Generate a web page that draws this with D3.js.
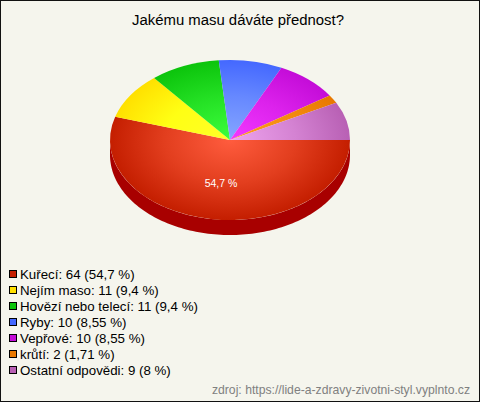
<!DOCTYPE html>
<html><head><meta charset="utf-8">
<script src="https://cdn.jsdelivr.net/npm/d3@7"></script>
<style>html,body{margin:0;padding:0;background:#f5f5ed}svg{display:block}text{font-family:"Liberation Sans",Arial,sans-serif}</style>
</head><body><svg id="c" width="480" height="402"></svg>
<script>
const title = "Jakému masu dáváte přednost?";
const source = "zdroj: https://lide-a-zdravy-zivotni-styl.vyplnto.cz";
const categories = ["Kuřecí","Nejím maso","Hovězí nebo telecí","Ryby","Vepřové","krůtí","Ostatní odpovědi"];
const values = [64,11,11,10,10,2,9];
const percentLabels = ["54,7 %","9,4 %","9,4 %","8,55 %","8,55 %","1,71 %","8 %"];
const lightColors = ["#ff5c3e","#ffff28","#3cff3c","#86a6ff","#f238ff","#ff9c20","#eea4ee"];
const midColors = ["#e23e1e","#ffff14","#24e024","#6688ff","#dc22ec","#f48c10","#d482d2"];
const darkColors = ["#c41e00","#ffe000","#0cc40c","#4468ff","#c40cd8","#e87800","#b860b4"];
const swatchColors = ["#c41e00","#ffe000","#0cc40c","#4468ff","#c40cd8","#e87800","#b860b4"];
const sideColor = "#a80000";

const W=480,H=402,cx=230,cy=140,rx=120,ry=80,depth=15;
const svg=d3.select("#c");
const defs=svg.append("defs");
svg.append("rect").attr("width",W).attr("height",H).attr("fill","#f5f5ed");
svg.append("rect").attr("x",.5).attr("y",.5).attr("width",W-1).attr("height",H-1).attr("fill","none").attr("stroke","#111");

svg.append("text").attr("x",238).attr("y",25).attr("text-anchor","middle").attr("font-size",14.9).attr("fill","#000").text(title);

const pie=d3.pie().sort(null).startAngle(Math.PI/2).endAngle(Math.PI*2.5);
const arcs=pie(values);
const px=a=>rx*Math.sin(a), py=a=>-ry*Math.cos(a);

// side wall: front half only
const area=d3.area().x(px).y0(py).y1(a=>py(a)+depth);
const g0=svg.append("g").attr("transform",`translate(${cx},${cy})`);
arcs.forEach(d=>{
  const a0=Math.max(d.startAngle,Math.PI/2),a1=Math.min(d.endAngle,Math.PI*1.5);
  if(a1<=a0)return;
  g0.append("path").attr("fill",sideColor).attr("d",area(d3.range(0,121).map(i=>a0+(a1-a0)*i/120)));
});

// top face: unit-scaled circle squashed to an ellipse
const g=svg.append("g").attr("transform",`translate(${cx},${cy}) scale(1,${ry/rx})`);
const arc=d3.arc().innerRadius(0).outerRadius(rx);
arcs.forEach((d,i)=>{
  const id="grad"+i;
  const gr=defs.append("radialGradient").attr("id",id).attr("gradientUnits","userSpaceOnUse")
    .attr("cx",0).attr("cy",0).attr("r",rx);
  gr.append("stop").attr("offset",0).attr("stop-color",lightColors[i]);
  gr.append("stop").attr("offset",.55).attr("stop-color",midColors[i]);
  gr.append("stop").attr("offset",1).attr("stop-color",darkColors[i]);
  g.append("path").attr("d",arc(d)).attr("fill",`url(#${id})`);
});

svg.append("text").attr("x",221).attr("y",187).attr("text-anchor","middle").attr("font-size",10.5).attr("fill","#fff").text(percentLabels[0]);

const ly=d3.scaleBand().domain(categories).range([266,378]);
const lg=svg.append("g").selectAll("g").data(categories).join("g")
  .attr("transform",c=>`translate(0,${ly(c)+ly.bandwidth()/2})`);
lg.append("rect").attr("x",9.5).attr("y",-3.5).attr("width",7).attr("height",7).attr("fill",(c,i)=>swatchColors[i]).attr("stroke","#000");
lg.append("text").attr("x",20).attr("y",4.5).attr("font-size",13.3).attr("fill","#000")
  .text((c,i)=>`${c}: ${values[i]} (${percentLabels[i]})`);

svg.append("text").attr("x",470).attr("y",394).attr("text-anchor","end").attr("font-size",12.2).attr("fill","#808080").text(source);
</script></body></html>
